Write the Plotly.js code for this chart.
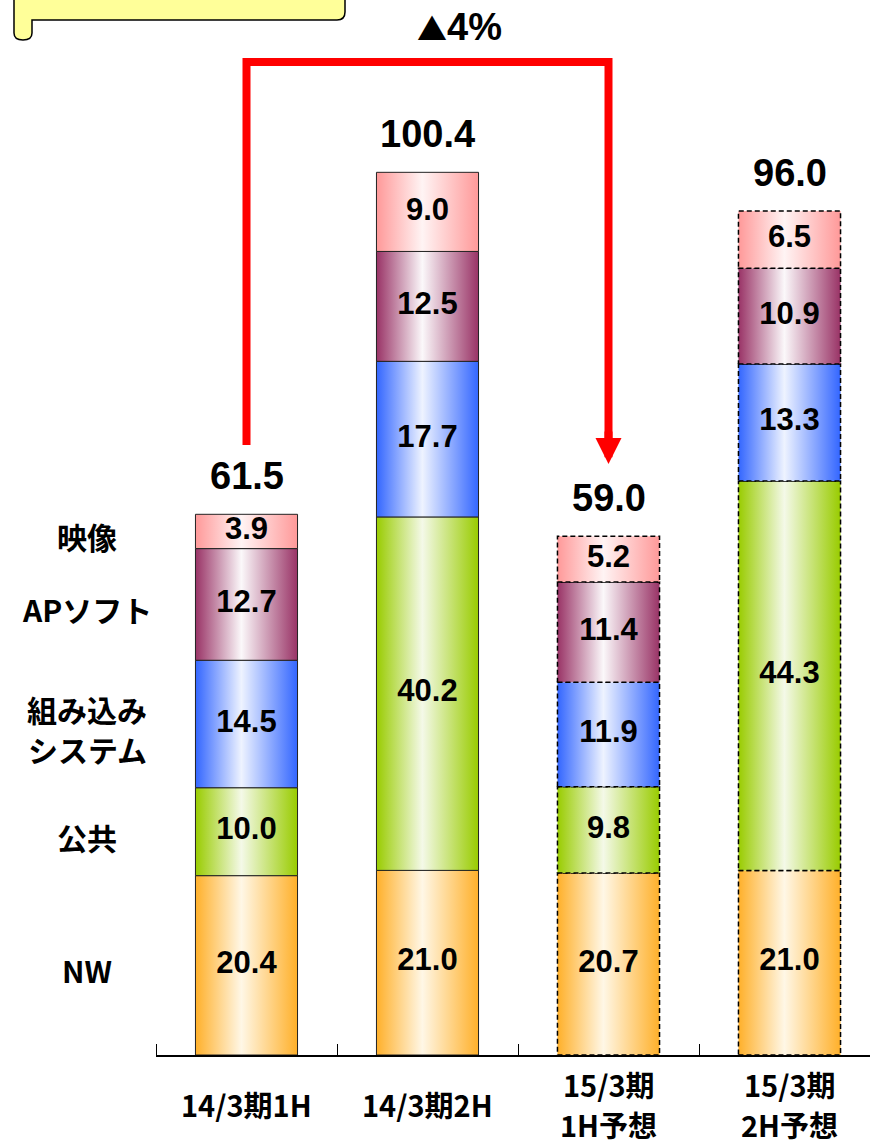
<!DOCTYPE html>
<html>
<head>
<meta charset="utf-8">
<script src="https://cdn.plot.ly/plotly-3.0.1.min.js"></script>
<style>
  html, body { margin: 0; padding: 0; background: #ffffff; }
  #chart { width: 870px; height: 1147px; }
</style>
</head>
<body>
<div id="chart"></div>
<script>
// ---------------- data ----------------
const categories = ['14/3期1H', '14/3期2H', '15/3期<br>1H予想', '15/3期<br>2H予想'];
const isForecast = [false, false, true, true];

const seriesNames = ['NW', '公共', '組み込み<br>システム', 'APソフト', '映像'];
const nwValues       = [20.4, 21.0, 20.7, 21.0];
const publicValues   = [10.0, 40.2, 9.8, 44.3];
const embeddedValues = [14.5, 17.7, 11.9, 13.3];
const apSoftValues   = [12.7, 12.5, 11.4, 10.9];
const videoValues    = [3.9, 9.0, 5.2, 6.5];

const changeMark = '▲';
const changeValue = '4%';
const noteCompare = [0, 2];   // compared categories (arrow from / to)

// ---------------- styles ----------------
const seriesValues = [nwValues, publicValues, embeddedValues, apSoftValues, videoValues];
const edgeColors  = ['#FFB02A', '#99CC00', '#3366FF', '#993366', '#FF9999'];
const lightColors = ['#FFF7E6', '#F4F9E8', '#EEF3FF', '#FBF8FA', '#FFF4F4'];

const plotL = 156, plotW = 714, plotT = 0, plotH = 1055;
const yMax = 120;
const xMin = -0.5, xMax = -0.5 + plotW / 181;
const halfW = 0.282;

function paperX(px) { return (px - plotL) / plotW; }
function paperY(py) { return (plotT + plotH - py) / plotH; }
function dataYFromPx(py) { return (plotT + plotH - py) / plotH * yMax; }

const numFont = 'Liberation Sans, Arial, sans-serif';
const jpFont = 'Noto Sans CJK JP, sans-serif';

const traces = [];
const annotations = [];

// multi-line text as separate annotation lines
function addLines(base, text, spacing, yshift0) {
  const lines = text.split('<br>');
  const n = lines.length;
  lines.forEach((ln, k) => {
    annotations.push(Object.assign({}, base, {
      text: ln, showarrow: false,
      yshift: yshift0 - (k - (n - 1) / 2) * spacing
    }));
  });
}

// stacked segments as gradient-filled polygons
const cumBase = categories.map(() => 0);
const textX = [], textY = [], textS = [];
seriesValues.forEach((vals, s) => {
  vals.forEach((v, i) => {
    const y0 = cumBase[i], y1 = cumBase[i] + v;
    traces.push({
      type: 'scatter', mode: 'lines',
      x: [i - halfW, i + halfW, i + halfW, i - halfW, i - halfW],
      y: [y0, y0, y1, y1, y0],
      fill: 'toself',
      fillcolor: edgeColors[s],
      fillgradient: {
        type: 'horizontal',
        colorscale: [[0, edgeColors[s]], [0.45, lightColors[s]], [1, edgeColors[s]]]
      },
      line: isForecast[i]
        ? { color: '#000000', width: 1.5, dash: '5px,3px' }
        : { color: '#222222', width: 1 },
      hoverinfo: 'skip', showlegend: false
    });
    textX.push(i); textY.push((y0 + y1) / 2); textS.push(v.toFixed(1));
    cumBase[i] = y1;
  });
});

traces.push({
  type: 'scatter', mode: 'text',
  x: textX, y: textY, text: textS,
  textposition: 'middle center',
  textfont: { family: numFont, size: 31, color: '#000000', weight: 'bold' },
  hoverinfo: 'skip', showlegend: false
});

// totals
const totals = cumBase.slice();
totals.forEach((t, i) => {
  annotations.push({
    x: i, y: t, xref: 'x', yref: 'y',
    text: t.toFixed(1), showarrow: false,
    yanchor: 'middle', yshift: 38,
    font: { family: numFont, size: 38, color: '#000000', weight: 'bold' }
  });
});

// left-side series labels, aligned to first bar's segments
let base0 = 0;
seriesValues.forEach((vals, s) => {
  const mid = base0 + vals[0] / 2;
  base0 += vals[0];
  addLines({
    xref: 'paper', yref: 'y', x: paperX(87), y: mid,
    xanchor: 'center', yanchor: 'middle',
    font: { family: jpFont, size: 30, color: '#000000', weight: 'bold' }
  }, seriesNames[s], 40, -5);
});

// category labels
categories.forEach((c, i) => {
  addLines({
    xref: 'x', yref: 'paper', x: i, y: 0,
    xanchor: 'center', yanchor: 'middle',
    font: { family: jpFont, size: 29, color: '#000000', weight: 'bold' }
  }, c, 40, -49);
});

// red comparison connector
const topY = dataYFromPx(62);
traces.push({
  type: 'scatter', mode: 'lines',
  x: [noteCompare[0], noteCompare[0], noteCompare[1], noteCompare[1]],
  y: [dataYFromPx(445), topY, topY, dataYFromPx(448)],
  line: { color: '#FF0000', width: 8 },
  hoverinfo: 'skip', showlegend: false, cliponaxis: false
});
annotations.push({
  xref: 'x', yref: 'y', axref: 'x', ayref: 'y',
  x: noteCompare[1], y: dataYFromPx(464),
  ax: noteCompare[1], ay: dataYFromPx(430),
  text: '', showarrow: true, arrowhead: 2, arrowsize: 0.65,
  arrowwidth: 8, arrowcolor: '#FF0000', standoff: 0
});
annotations.push({
  xref: 'paper', yref: 'paper', x: paperX(459), y: paperY(27),
  text: '<span style="font-family:Noto Sans CJK JP;font-size:30px">' + changeMark + '</span>' + changeValue,
  showarrow: false,
  xanchor: 'center', yanchor: 'middle',
  font: { family: numFont, size: 38, color: '#000000', weight: 'bold' }
});

// yellow scroll box (top-left, cut off)
function P(px, py) { return paperX(px).toFixed(5) + ',' + paperY(py).toFixed(5); }
const scrollPath =
  'M' + P(14, -10) + ' L' + P(14, 33) + ' Q' + P(14, 40) + ' ' + P(23, 40) +
  ' Q' + P(32, 40) + ' ' + P(32, 33) + ' L' + P(32, 20) + ' L' + P(337, 20) +
  ' Q' + P(345, 20) + ' ' + P(345, 12) + ' L' + P(345, -10) + ' Z';
const shapes = [{
  type: 'path', xref: 'paper', yref: 'paper', path: scrollPath,
  fillcolor: '#FFFF99', line: { color: '#000000', width: 1.5 }, layer: 'above'
}];

const layout = {
  width: 870, height: 1147,
  margin: { l: plotL, r: 870 - plotL - plotW, t: plotT, b: 1147 - plotT - plotH, pad: 0 },
  paper_bgcolor: '#ffffff', plot_bgcolor: '#ffffff',
  showlegend: false,
  xaxis: {
    range: [xMin, xMax], showgrid: false, zeroline: false,
    showline: true, linecolor: '#000000', linewidth: 1.5,
    tickvals: [0, 1, 2, 3], ticktext: ['', '', '', ''], ticks: '',
    minor: { tickvals: [-0.5, 0.5, 1.5, 2.5], ticks: 'inside', ticklen: 11, tickcolor: '#000000', tickwidth: 1, showgrid: false },
    fixedrange: true
  },
  yaxis: {
    range: [0, yMax], visible: false, showgrid: false, zeroline: false, fixedrange: true
  },
  annotations: annotations,
  shapes: shapes
};

Plotly.newPlot('chart', traces, layout, { staticPlot: true, displayModeBar: false });
</script>
</body>
</html>
